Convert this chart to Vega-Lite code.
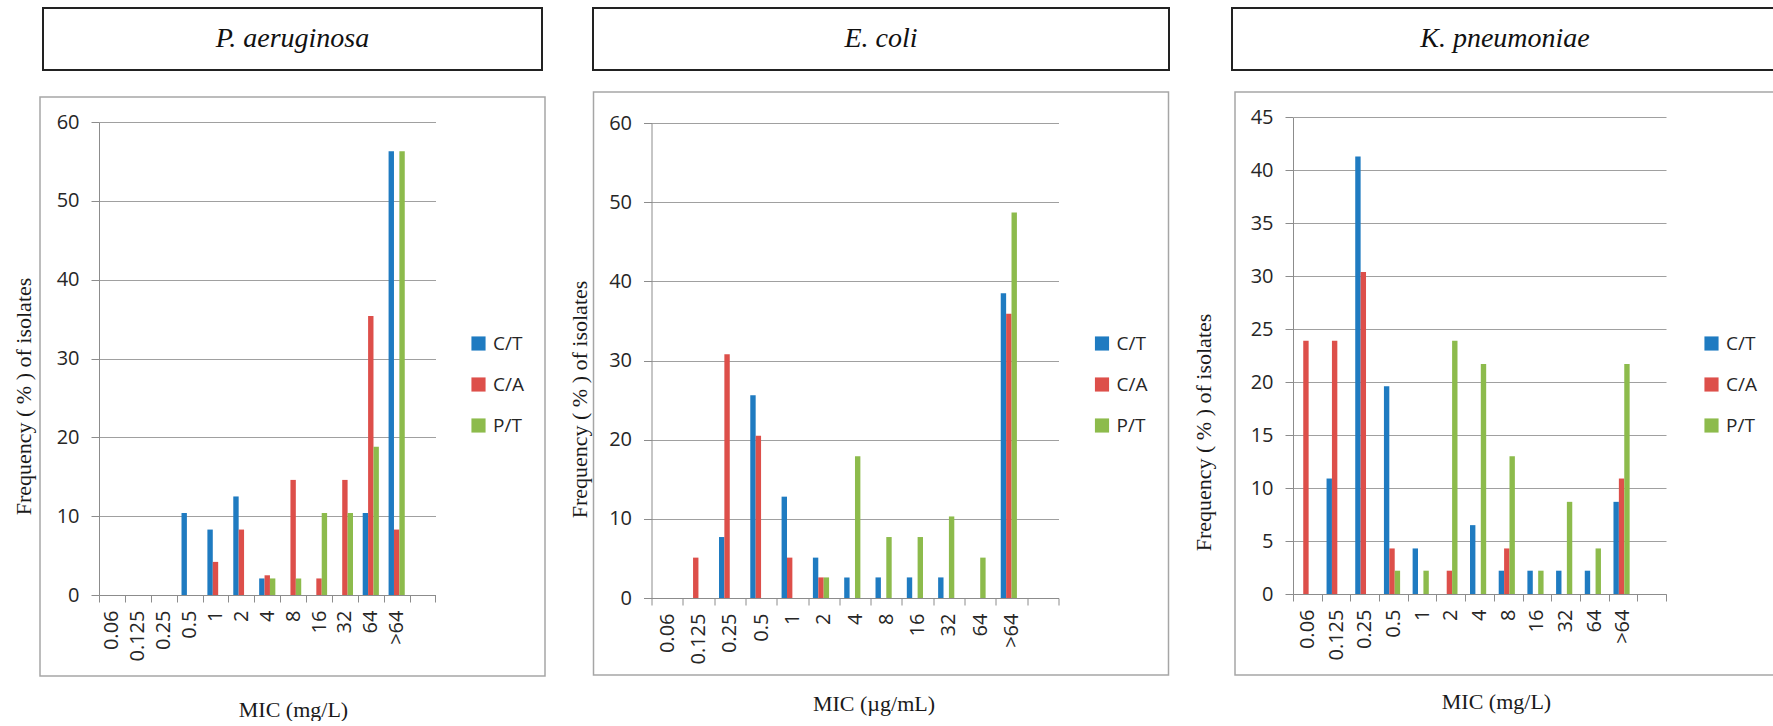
{
  "$schema": "https://vega.github.io/schema/vega-lite/v6.json",
  "padding": {"left": 11, "top": 7, "right": 0, "bottom": 0},
  "autosize": {"type": "pad"},
  "background": "white",
  "datasets": {
    "pa": [
      {"mic": "0.5", "drug": "C/T", "value": 10.4},
      {"mic": "1", "drug": "C/T", "value": 8.3},
      {"mic": "1", "drug": "C/A", "value": 4.2},
      {"mic": "2", "drug": "C/T", "value": 12.5},
      {"mic": "2", "drug": "C/A", "value": 8.3},
      {"mic": "4", "drug": "C/T", "value": 2.1},
      {"mic": "4", "drug": "C/A", "value": 2.5},
      {"mic": "4", "drug": "P/T", "value": 2.1},
      {"mic": "8", "drug": "C/A", "value": 14.6},
      {"mic": "8", "drug": "P/T", "value": 2.1},
      {"mic": "16", "drug": "C/A", "value": 2.1},
      {"mic": "16", "drug": "P/T", "value": 10.4},
      {"mic": "32", "drug": "C/A", "value": 14.6},
      {"mic": "32", "drug": "P/T", "value": 10.4},
      {"mic": "64", "drug": "C/T", "value": 10.4},
      {"mic": "64", "drug": "C/A", "value": 35.4},
      {"mic": "64", "drug": "P/T", "value": 18.8},
      {"mic": ">64", "drug": "C/T", "value": 56.3},
      {"mic": ">64", "drug": "C/A", "value": 8.3},
      {"mic": ">64", "drug": "P/T", "value": 56.3}
    ],
    "ec": [
      {"mic": "0.125", "drug": "C/A", "value": 5.1},
      {"mic": "0.25", "drug": "C/T", "value": 7.7},
      {"mic": "0.25", "drug": "C/A", "value": 30.8},
      {"mic": "0.5", "drug": "C/T", "value": 25.6},
      {"mic": "0.5", "drug": "C/A", "value": 20.5},
      {"mic": "1", "drug": "C/T", "value": 12.8},
      {"mic": "1", "drug": "C/A", "value": 5.1},
      {"mic": "2", "drug": "C/T", "value": 5.1},
      {"mic": "2", "drug": "C/A", "value": 2.6},
      {"mic": "2", "drug": "P/T", "value": 2.6},
      {"mic": "4", "drug": "C/T", "value": 2.6},
      {"mic": "4", "drug": "P/T", "value": 17.9},
      {"mic": "8", "drug": "C/T", "value": 2.6},
      {"mic": "8", "drug": "P/T", "value": 7.7},
      {"mic": "16", "drug": "C/T", "value": 2.6},
      {"mic": "16", "drug": "P/T", "value": 7.7},
      {"mic": "32", "drug": "C/T", "value": 2.6},
      {"mic": "32", "drug": "P/T", "value": 10.3},
      {"mic": "64", "drug": "P/T", "value": 5.1},
      {"mic": ">64", "drug": "C/T", "value": 38.5},
      {"mic": ">64", "drug": "C/A", "value": 35.9},
      {"mic": ">64", "drug": "P/T", "value": 48.7}
    ],
    "kp": [
      {"mic": "0.06", "drug": "C/A", "value": 23.9},
      {"mic": "0.125", "drug": "C/T", "value": 10.9},
      {"mic": "0.125", "drug": "C/A", "value": 23.9},
      {"mic": "0.25", "drug": "C/T", "value": 41.3},
      {"mic": "0.25", "drug": "C/A", "value": 30.4},
      {"mic": "0.5", "drug": "C/T", "value": 19.6},
      {"mic": "0.5", "drug": "C/A", "value": 4.3},
      {"mic": "0.5", "drug": "P/T", "value": 2.2},
      {"mic": "1", "drug": "C/T", "value": 4.3},
      {"mic": "1", "drug": "P/T", "value": 2.2},
      {"mic": "2", "drug": "C/A", "value": 2.2},
      {"mic": "2", "drug": "P/T", "value": 23.9},
      {"mic": "4", "drug": "C/T", "value": 6.5},
      {"mic": "4", "drug": "P/T", "value": 21.7},
      {"mic": "8", "drug": "C/T", "value": 2.2},
      {"mic": "8", "drug": "C/A", "value": 4.3},
      {"mic": "8", "drug": "P/T", "value": 13.0},
      {"mic": "16", "drug": "C/T", "value": 2.2},
      {"mic": "16", "drug": "P/T", "value": 2.2},
      {"mic": "32", "drug": "C/T", "value": 2.2},
      {"mic": "32", "drug": "P/T", "value": 8.7},
      {"mic": "64", "drug": "C/T", "value": 2.2},
      {"mic": "64", "drug": "P/T", "value": 4.3},
      {"mic": ">64", "drug": "C/T", "value": 8.7},
      {"mic": ">64", "drug": "C/A", "value": 10.9},
      {"mic": ">64", "drug": "P/T", "value": 21.7}
    ]
  },
  "config": {
    "axis": {
      "labelFont": "Open Sans",
      "labelFontSize": 20,
      "labelColor": "#262626",
      "titleFont": "Liberation Serif",
      "titleFontSize": 22,
      "titleFontWeight": "normal",
      "titleColor": "#1a1a1a",
      "domainColor": "#8c8c8c",
      "tickColor": "#8c8c8c",
      "gridColor": "#a0a0a0",
      "domainWidth": 1,
      "tickWidth": 1,
      "gridWidth": 1.2
    },
    "axisX": {
      "labelAngle": -90,
      "tickBand": "extent",
      "tickSize": 7,
      "labelPadding": 8,
      "grid": false,
      "labelOverlap": false,
      "titleAlign": "center",
      "titleBaseline": "middle",
      "titleAngle": 0
    },
    "axisY": {
      "tickSize": 8,
      "labelPadding": 12,
      "grid": true,
      "titleAngle": -90,
      "titleAlign": "center",
      "titleBaseline": "middle"
    },
    "legend": {
      "labelFont": "Open Sans",
      "labelFontSize": 19,
      "labelColor": "#262626",
      "symbolType": "square",
      "symbolSize": 200,
      "symbolStrokeWidth": 0,
      "rowPadding": 21,
      "labelOffset": 5,
      "padding": 0
    }
  },
  "resolve": {"scale": {"color": "independent"}, "legend": {"color": "independent"}},
  "spacing": 21,
  "hconcat": [
    {
      "vconcat": [
        {
          "width": 499,
          "height": 62,
          "view": {"stroke": "#222222", "strokeWidth": 2},
          "data": {"values": [{"name": "P. aeruginosa"}]},
          "mark": {"type": "text", "font": "Liberation Serif", "fontStyle": "italic", "fontSize": 28, "align": "center", "baseline": "middle", "color": "#111111"},
          "encoding": {"text": {"field": "name", "type": "nominal"}}
        },
        {
          "width": 505,
          "height": 579,
          "view": {"stroke": "#a6a6a6", "strokeWidth": 1.5},
          "data": {"name": "pa"},
          "mark": {"type": "bar"},
          "encoding": {
            "x": {
              "field": "mic", "type": "nominal",
              "scale": {"domain": ["0.06", "0.125", "0.25", "0.5", "1", "2", "4", "8", "16", "32", "64", ">64", " "], "range": [59, 395.5], "paddingInner": 0, "paddingOuter": 0},
              "axis": {"title": "MIC (mg/L)", "offset": -81, "titleX": 253, "titleY": 114}
            },
            "xOffset": {"field": "drug", "type": "nominal", "scale": {"domain": ["C/T", "C/A", "P/T"], "paddingOuter": 0.9, "paddingInner": 0}},
            "y": {
              "field": "value", "type": "quantitative",
              "scale": {"domain": [0, 60], "range": [498, 25], "nice": false},
              "axis": {"title": "Frequency ( % ) of isolates", "values": [0, 10, 20, 30, 40, 50, 60], "offset": -59, "titleX": -76, "titleY": 299}
            },
            "color": {
              "field": "drug", "type": "nominal",
              "scale": {"domain": ["C/T", "C/A", "P/T"], "range": ["#1f7bc1", "#dd4f4a", "#8dbb4c"]},
              "legend": {"title": null, "orient": "none", "legendX": 429, "legendY": 237}
            }
          }
        }
      ],
      "spacing": 27,
      "center": true,
      "bounds": "flush",
      "resolve": {"scale": {"color": "independent"}, "legend": {"color": "independent"}}
    },
    {
      "vconcat": [
        {
          "width": 576,
          "height": 62,
          "view": {"stroke": "#222222", "strokeWidth": 2},
          "data": {"values": [{"name": "E. coli"}]},
          "mark": {"type": "text", "font": "Liberation Serif", "fontStyle": "italic", "fontSize": 28, "align": "center", "baseline": "middle", "color": "#111111"},
          "encoding": {"text": {"field": "name", "type": "nominal"}}
        },
        {
          "width": 575,
          "height": 583,
          "view": {"stroke": "#a6a6a6", "strokeWidth": 1.5},
          "data": {"name": "ec"},
          "mark": {"type": "bar"},
          "encoding": {
            "x": {
              "field": "mic", "type": "nominal",
              "scale": {"domain": ["0.06", "0.125", "0.25", "0.5", "1", "2", "4", "8", "16", "32", "64", ">64", " "], "range": [58, 465], "paddingInner": 0, "paddingOuter": 0},
              "axis": {"title": "MIC (µg/mL)", "offset": -77, "titleX": 280, "titleY": 105}
            },
            "xOffset": {"field": "drug", "type": "nominal", "scale": {"domain": ["C/T", "C/A", "P/T"], "paddingOuter": 0.9, "paddingInner": 0}},
            "y": {
              "field": "value", "type": "quantitative",
              "scale": {"domain": [0, 60], "range": [506, 31], "nice": false},
              "axis": {"title": "Frequency ( % ) of isolates", "values": [0, 10, 20, 30, 40, 50, 60], "offset": -58, "titleX": -72, "titleY": 307}
            },
            "color": {
              "field": "drug", "type": "nominal",
              "scale": {"domain": ["C/T", "C/A", "P/T"], "range": ["#1f7bc1", "#dd4f4a", "#8dbb4c"]},
              "legend": {"title": null, "orient": "none", "legendX": 499, "legendY": 242}
            }
          }
        }
      ],
      "spacing": 22,
      "center": true,
      "bounds": "flush",
      "resolve": {"scale": {"color": "independent"}, "legend": {"color": "independent"}}
    },
    {
      "vconcat": [
        {
          "width": 546,
          "height": 62,
          "view": {"stroke": "#222222", "strokeWidth": 2},
          "data": {"values": [{"name": "K. pneumoniae"}]},
          "mark": {"type": "text", "font": "Liberation Serif", "fontStyle": "italic", "fontSize": 28, "align": "center", "baseline": "middle", "color": "#111111"},
          "encoding": {"text": {"field": "name", "type": "nominal"}}
        },
        {
          "width": 540,
          "height": 583,
          "view": {"stroke": "#a6a6a6", "strokeWidth": 1.5},
          "data": {"name": "kp"},
          "mark": {"type": "bar"},
          "encoding": {
            "x": {
              "field": "mic", "type": "nominal",
              "scale": {"domain": ["0.06", "0.125", "0.25", "0.5", "1", "2", "4", "8", "16", "32", "64", ">64", " "], "range": [58, 431], "paddingInner": 0, "paddingOuter": 0},
              "axis": {"title": "MIC (mg/L)", "offset": -81, "titleX": 261, "titleY": 107}
            },
            "xOffset": {"field": "drug", "type": "nominal", "scale": {"domain": ["C/T", "C/A", "P/T"], "paddingOuter": 0.9, "paddingInner": 0}},
            "y": {
              "field": "value", "type": "quantitative",
              "scale": {"domain": [0, 45], "range": [502, 25.3], "nice": false},
              "axis": {"title": "Frequency ( % ) of isolates", "values": [0, 5, 10, 15, 20, 25, 30, 35, 40, 45], "offset": -58, "titleX": -90, "titleY": 340}
            },
            "color": {
              "field": "drug", "type": "nominal",
              "scale": {"domain": ["C/T", "C/A", "P/T"], "range": ["#1f7bc1", "#dd4f4a", "#8dbb4c"]},
              "legend": {"title": null, "orient": "none", "legendX": 467, "legendY": 242}
            }
          }
        }
      ],
      "spacing": 22,
      "center": true,
      "bounds": "flush",
      "resolve": {"scale": {"color": "independent"}, "legend": {"color": "independent"}}
    }
  ]
}
